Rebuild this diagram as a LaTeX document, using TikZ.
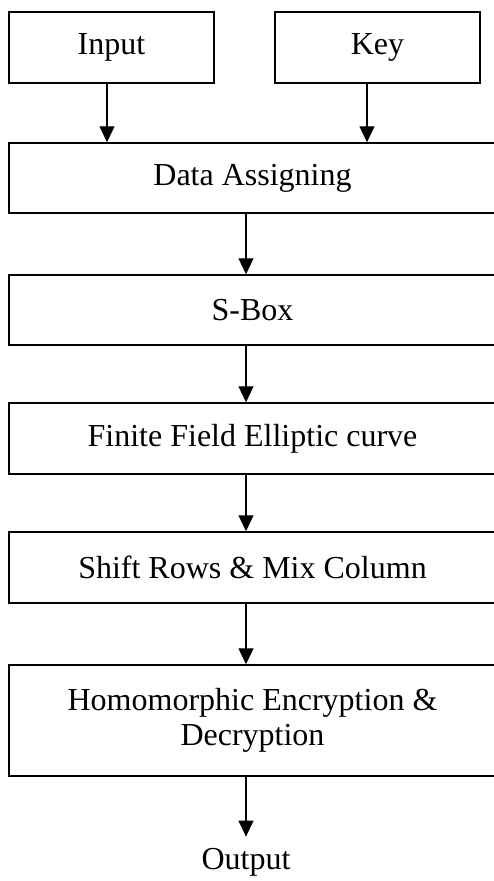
\documentclass[tikz,border=0pt]{standalone}
\usepackage{fontspec}
\setmainfont{Liberation Serif}
\usetikzlibrary{arrows.meta}
\begin{document}
\begin{tikzpicture}[x=1pt,y=-1pt,
  font=\fontsize{32}{36}\selectfont,
  box/.style={draw=black,line width=1.5pt,rectangle,inner sep=0pt,
    minimum width=#1,align=center},
  box/.default=487pt,
  flow/.style={draw=black,line width=1.2pt,-{Triangle[width=15pt,length=16pt]}}]
\useasboundingbox (0,0) rectangle (494,881);
% top inputs
\node[box=205pt,minimum height=71pt] (inp) at (111.5,47.5) {Input};
\node[box=205pt,minimum height=71pt] (key) at (377.5,47.5) {Key};
% processing stages
\node[box,minimum height=70pt] (dat) at (252.5,178) {Data Assigning};
\node[box,minimum height=70pt] (sbx) at (252.5,310) {S-Box};
\node[box,minimum height=71pt] (ecc) at (252.5,438.5) {Finite Field Elliptic curve};
\node[box,minimum height=71pt] (smx) at (252.5,567.5) {Shift Rows \& Mix Column};
\node[box,minimum height=111pt] (hom) at (252.5,720.5) {Homomorphic Encryption \&\\[-1pt]Decryption};
\node[anchor=base,inner sep=0pt] (out) at (246,869) {Output};
% connector columns
\coordinate (c1) at (107,0);
\coordinate (c2) at (367,0);
\coordinate (c3) at (246,0);
\draw[flow] (inp.south -| c1) -- (dat.north -| c1);
\draw[flow] (key.south -| c2) -- (dat.north -| c2);
\draw[flow] (dat.south -| c3) -- (sbx.north -| c3);
\draw[flow] (sbx.south -| c3) -- (ecc.north -| c3);
\draw[flow] (ecc.south -| c3) -- (smx.north -| c3);
\draw[flow] (smx.south -| c3) -- (hom.north -| c3);
\draw[flow] (hom.south -| c3) -- ([yshift=11pt]out.north -| c3);
\end{tikzpicture}
\end{document}
